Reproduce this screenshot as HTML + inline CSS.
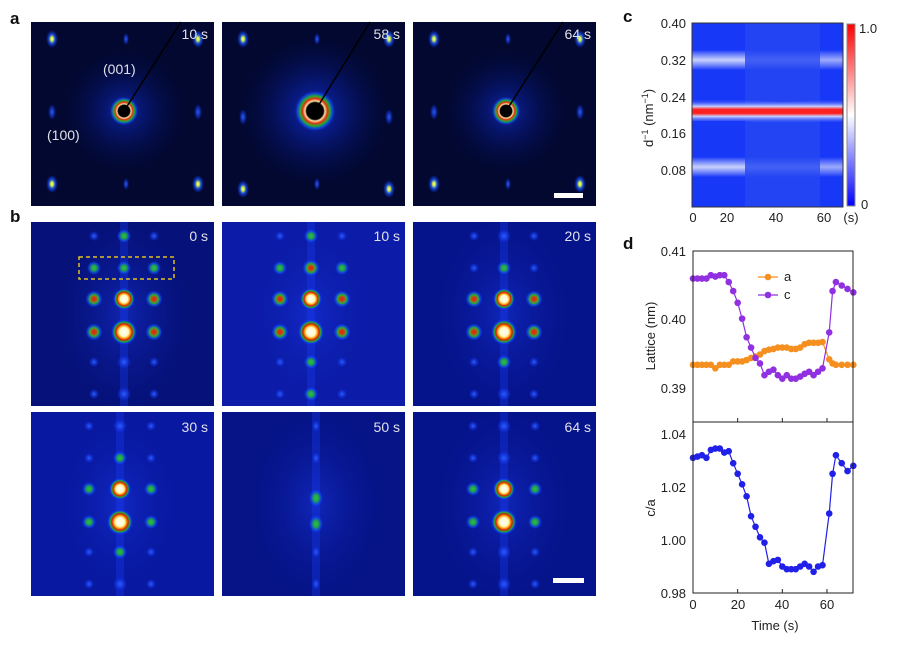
<!DOCTYPE html>
<html><head><meta charset="utf-8"><style>
html,body{margin:0;padding:0;background:#fff;}
svg{display:block;font-family:"Liberation Sans",sans-serif;}
</style></head><body>
<svg id="s" width="898" height="650" viewBox="0 0 898 650" xmlns="http://www.w3.org/2000/svg">
<defs>
<radialGradient id="hot"><stop offset="0" stop-color="#fff"/><stop offset="0.35" stop-color="#fff8c0"/><stop offset="0.5" stop-color="#ff9a00"/><stop offset="0.62" stop-color="#d02010"/><stop offset="0.75" stop-color="#20b030"/><stop offset="0.88" stop-color="#1040ff" stop-opacity="0.7"/><stop offset="1" stop-color="#1030ff" stop-opacity="0"/></radialGradient>
<radialGradient id="red"><stop offset="0" stop-color="#e02010"/><stop offset="0.25" stop-color="#d04010"/><stop offset="0.5" stop-color="#30b030"/><stop offset="0.8" stop-color="#1050ff" stop-opacity="0.6"/><stop offset="1" stop-color="#1030ff" stop-opacity="0"/></radialGradient>
<radialGradient id="grn"><stop offset="0" stop-color="#30c040"/><stop offset="0.4" stop-color="#20a050"/><stop offset="0.75" stop-color="#1050ff" stop-opacity="0.6"/><stop offset="1" stop-color="#1030ff" stop-opacity="0"/></radialGradient>
<radialGradient id="blu"><stop offset="0" stop-color="#2a60ff"/><stop offset="0.6" stop-color="#1a40f0" stop-opacity="0.5"/><stop offset="1" stop-color="#1030ff" stop-opacity="0"/></radialGradient>
<radialGradient id="ysp"><stop offset="0" stop-color="#ffffa0"/><stop offset="0.25" stop-color="#c0e040"/><stop offset="0.5" stop-color="#2060ff" stop-opacity="0.8"/><stop offset="1" stop-color="#1030ff" stop-opacity="0"/></radialGradient>
<radialGradient id="glow"><stop offset="0" stop-color="#1840e0"/><stop offset="0.3" stop-color="#0c24b0" stop-opacity="0.7"/><stop offset="1" stop-color="#041060" stop-opacity="0"/></radialGradient>
<radialGradient id="ring"><stop offset="0" stop-color="#000"/><stop offset="0.42" stop-color="#000"/><stop offset="0.5" stop-color="#ffe0a0"/><stop offset="0.62" stop-color="#e03010"/><stop offset="0.75" stop-color="#20b030"/><stop offset="0.9" stop-color="#1050ff" stop-opacity="0.6"/><stop offset="1" stop-color="#1030ff" stop-opacity="0"/></radialGradient>
<radialGradient id="bglowb"><stop offset="0" stop-color="#1a38e8"/><stop offset="1" stop-color="#0818a0" stop-opacity="0"/></radialGradient>
<linearGradient id="cb" x1="0" y1="0" x2="0" y2="1"><stop offset="0" stop-color="#ff0000"/><stop offset="0.5" stop-color="#ffffff"/><stop offset="1" stop-color="#0000ff"/></linearGradient>
<linearGradient id="band" x1="0" y1="0" x2="0" y2="1"><stop offset="0" stop-color="#1a3cff" stop-opacity="0"/><stop offset="0.3" stop-color="#c8d0ff"/><stop offset="0.42" stop-color="#ff2020"/><stop offset="0.58" stop-color="#ff2020"/><stop offset="0.7" stop-color="#c8d0ff"/><stop offset="1" stop-color="#1a3cff" stop-opacity="0"/></linearGradient>
<linearGradient id="wb" x1="0" y1="0" x2="0" y2="1"><stop offset="0" stop-color="#fff" stop-opacity="0"/><stop offset="0.5" stop-color="#e8ecff" stop-opacity="0.85"/><stop offset="1" stop-color="#fff" stop-opacity="0"/></linearGradient>
</defs>
<g id="imgs"></g>
<g font-weight="bold" font-size="17" fill="#111">
<text x="10" y="24">a</text><text x="10" y="222">b</text><text x="623" y="22">c</text><text x="623" y="249">d</text>
</g>
<g fill="#e0e0e8" font-size="14">
<text x="208" y="39" text-anchor="end">10 s</text>
<text x="400" y="39" text-anchor="end">58 s</text>
<text x="591" y="39" text-anchor="end">64 s</text>
<text x="103" y="74">(001)</text>
<text x="47" y="140">(100)</text>
<text x="208" y="241" text-anchor="end">0 s</text>
<text x="400" y="241" text-anchor="end">10 s</text>
<text x="591" y="241" text-anchor="end">20 s</text>
<text x="208" y="432" text-anchor="end">30 s</text>
<text x="400" y="432" text-anchor="end">50 s</text>
<text x="591" y="432" text-anchor="end">64 s</text>
</g>
<rect x="554" y="193" width="29" height="5" fill="#fff"/>
<rect x="553" y="578" width="31" height="5" fill="#fff"/>
<rect x="79" y="257" width="95" height="22" fill="none" stroke="#e0c020" stroke-width="1.5" stroke-dasharray="4,3"/>
<g id="pc"></g>
<rect x="692" y="23" width="151" height="184" fill="none" stroke="#333" stroke-width="1"/>
<rect x="847" y="24" width="8" height="182" fill="url(#cb)" stroke="#888" stroke-width="1"/>
<g font-size="13" fill="#222">
<text x="686" y="28" text-anchor="end">0.40</text>
<text x="686" y="65" text-anchor="end">0.32</text>
<text x="686" y="102" text-anchor="end">0.24</text>
<text x="686" y="138" text-anchor="end">0.16</text>
<text x="686" y="175" text-anchor="end">0.08</text>
<text x="693" y="222" text-anchor="middle">0</text>
<text x="727" y="222" text-anchor="middle">20</text>
<text x="776" y="222" text-anchor="middle">40</text>
<text x="824" y="222" text-anchor="middle">60</text>
<text x="851" y="222" text-anchor="middle">(s)</text>
<text x="859" y="33">1.0</text>
<text x="861" y="209">0</text>
<text transform="translate(653,118) rotate(-90)" text-anchor="middle">d<tspan font-size="9" dy="-5">−1</tspan><tspan dy="5"> (nm</tspan><tspan font-size="9" dy="-5">−1</tspan><tspan dy="5">)</tspan></text>
</g>
<g id="pd"></g>
<rect x="693" y="251" width="160" height="342" fill="none" stroke="#222" stroke-width="1"/>
<line x1="693" y1="422" x2="853" y2="422" stroke="#222"/>
<g font-size="13" fill="#222">
<text x="686" y="256" text-anchor="end">0.41</text>
<text x="686" y="324" text-anchor="end">0.40</text>
<text x="686" y="393" text-anchor="end">0.39</text>
<text x="686" y="439" text-anchor="end">1.04</text>
<text x="686" y="492" text-anchor="end">1.02</text>
<text x="686" y="545" text-anchor="end">1.00</text>
<text x="686" y="598" text-anchor="end">0.98</text>
<text x="693" y="609" text-anchor="middle">0</text>
<text x="738" y="609" text-anchor="middle">20</text>
<text x="782" y="609" text-anchor="middle">40</text>
<text x="827" y="609" text-anchor="middle">60</text>
<text x="775" y="630" text-anchor="middle">Time (s)</text>
<text transform="translate(655,336) rotate(-90)" text-anchor="middle">Lattice (nm)</text>
<text transform="translate(655,508) rotate(-90)" text-anchor="middle">c/a</text>
<text x="784" y="281">a</text>
<text x="784" y="299">c</text>
</g>
<line x1="758" y1="277" x2="778" y2="277" stroke="#f59020" stroke-width="1.3"/><circle cx="768" cy="277" r="3.3" fill="#f59020"/>
<line x1="758" y1="295" x2="778" y2="295" stroke="#9030e0" stroke-width="1.3"/><circle cx="768" cy="295" r="3.3" fill="#9030e0"/>
</svg>
<script>
var NS="http://www.w3.org/2000/svg";
function el(p,t,a){var e=document.createElementNS(NS,t);for(var k in a)e.setAttribute(k,a[k]);p.appendChild(e);return e;}
var G=document.getElementById('imgs');
var W=183,H=184;
function spot(x,y,r,g,ry){el(G,'ellipse',{cx:x,cy:y,rx:r,ry:ry||r,fill:'url(#'+g+')'});}
[[31,22],[222,22],[413,22]].forEach(function(p,i){
 var x=p[0],y=p[1];
 el(G,'rect',{x:x,y:y,width:W,height:H,fill:'#020830'});
 el(G,'circle',{cx:x+93,cy:y+89,r:i==1?75:62,fill:'url(#glow)',opacity:i==1?0.9:0.7});
 var cols=[21,167],rows=[17,90,162];
 rows.forEach(function(ry,j){cols.forEach(function(cx){
   var big=(j!=1);
   spot(x+cx,y+ry+(i==1&&j>0?5:0),big?6:4,big?'ysp':'blu',big?9:8);
 });
 spot(x+95,y+ry,3,'blu',6);});
 var cr=i==1?20:14;
 el(G,'circle',{cx:x+93,cy:y+89,r:cr,fill:'url(#ring)'});
 el(G,'line',{x1:x+93,y1:y+89,x2:x+(i==1?148:150),y2:y,stroke:'#000',"stroke-width":1.5});
});
var B=[
 [31,222,93,30,['blu','grn','red','red','blu','blu'],['grn','grn','hot','hot','blu','blu'],'#06127a'],
 [222,222,89,31,['blu','grn','red','red','blu','blu'],['grn','red','hot','hot','grn','grn'],'#0c1ca8'],
 [413,222,91,30,['blu','blu','red','red','blu','blu'],['blu','grn','hot','hot','grn','blu'],'#06148c'],
 [31,412,89,31,['blu','blu','grn','grn','blu','blu'],['blu','grn','hot','hot','grn','blu'],'#0818a0'],
 [222,412,94,0,[],['blu','blu','grn','grn','blu','blu'],'#061488'],
 [413,412,91,31,['blu','blu','grn','grn','blu','blu'],['blu','blu','hot','hot','blu','blu'],'#06148c']
];
var rowsB=[14,46,77,110,140,172];
B.forEach(function(b,i){
 var x=b[0],y=b[1];
 el(G,'rect',{x:x,y:y,width:W,height:H,fill:b[6]});
 el(G,'ellipse',{cx:x+b[2],cy:y+92,rx:65,ry:95,fill:'url(#bglowb)',opacity:0.5});
 el(G,'rect',{x:x+b[2]-4,y:y,width:8,height:H,fill:'#1a40ff',opacity:0.3});
 rowsB.forEach(function(ry,j){
  var c=b[5][j];
  if(i==4&&(j==2||j==3)){spot(x+b[2],y+ry+(j==2?9:2),7,'grn',9);return;}
  if(i==4){spot(x+b[2],y+ry,4,'blu',6);return;}
  var r=c=='hot'?(j==3?13:11):(c=='red'?8.5:7);
  spot(x+b[2],y+ry,r,c);
  if(b[4].length){var s=b[4][j];var rs=s=='red'?8.5:(s=='grn'?7:5);
   spot(x+b[2]-b[3],y+ry,rs,s);spot(x+b[2]+b[3],y+ry,rs,s);}
 });
});
var C=document.getElementById('pc');
el(C,'rect',{x:692,y:23,width:151,height:184,fill:'#1838f8'});
el(C,'rect',{x:745,y:23,width:75,height:184,fill:'#2a4cf0',opacity:0.6});
[[60],[167]].forEach(function(v){
 el(C,'rect',{x:692,y:v[0]-10,width:53,height:20,fill:'url(#wb)'});
 el(C,'rect',{x:820,y:v[0]-10,width:23,height:20,fill:'url(#wb)',opacity:0.75});
 el(C,'rect',{x:745,y:v[0]-10,width:75,height:20,fill:'url(#wb)',opacity:0.2});
});
el(C,'path',{d:'M692,99 L745,99 Q775,104 820,100 L843,100 L843,122 L820,122 Q775,126 745,121 L692,121 Z',fill:'url(#band)'});
var D=document.getElementById('pd');
function X(t){return 693+t*2.233;}
function YL(v){return 251+(0.41-v)*6900;}
function YR(v){return 434+(1.04-v)*2650;}
var ta=[];
var av=[0.3935,0.3935,0.3935,0.3935,0.3935,0.393,0.3935,0.3935,0.3935,0.394,0.394,0.394,0.3942,0.3945,0.3947,0.395,0.3955,0.3957,0.3958,0.396,0.396,0.396,0.3958,0.3958,0.396,0.3965,0.3967,0.3967,0.3967,0.3968,0.3943,0.3937,0.3935,0.3935,0.3935,0.3935];
var cv=[0.406,0.406,0.406,0.406,0.4065,0.4063,0.4065,0.4065,0.4055,0.4042,0.4025,0.4002,0.3975,0.396,0.3945,0.3937,0.392,0.3925,0.3928,0.392,0.3915,0.392,0.3915,0.3915,0.3918,0.3922,0.3925,0.392,0.3925,0.393,0.3982,0.4042,0.4055,0.405,0.4045,0.404];
var rv=[1.031,1.0315,1.032,1.031,1.034,1.0345,1.0345,1.033,1.0335,1.029,1.025,1.021,1.0165,1.009,1.005,1.001,0.999,0.991,0.992,0.9925,0.99,0.989,0.989,0.989,0.99,0.991,0.99,0.988,0.99,0.9905,1.010,1.025,1.032,1.029,1.026,1.028];
for(var i=0;i<36;i++){var t=i*2;if(i>=30)t=61+(i-30)*2; if(i==31)t=62.5;if(i==32)t=64;if(i>=33)t=64+(i-32)*2.6; ta.push(t);}
function series(vals,fy,col){
 var d='';vals.forEach(function(v,i){d+=(i?'L':'M')+X(ta[i]).toFixed(1)+','+fy(v).toFixed(1);});
 el(D,'path',{d:d,fill:'none',stroke:col,"stroke-width":1.2});
 vals.forEach(function(v,i){el(D,'circle',{cx:X(ta[i]),cy:fy(v),r:3.3,fill:col});});
}
series(av,YL,'#f59020');series(cv,YL,'#9030e0');series(rv,YR,'#2020e8');
[0,20,40,60].forEach(function(t){el(D,'line',{x1:X(t),y1:593,x2:X(t),y2:589,stroke:'#222'});el(D,'line',{x1:X(t),y1:422,x2:X(t),y2:418,stroke:'#222'});});
</script>
</body></html>
